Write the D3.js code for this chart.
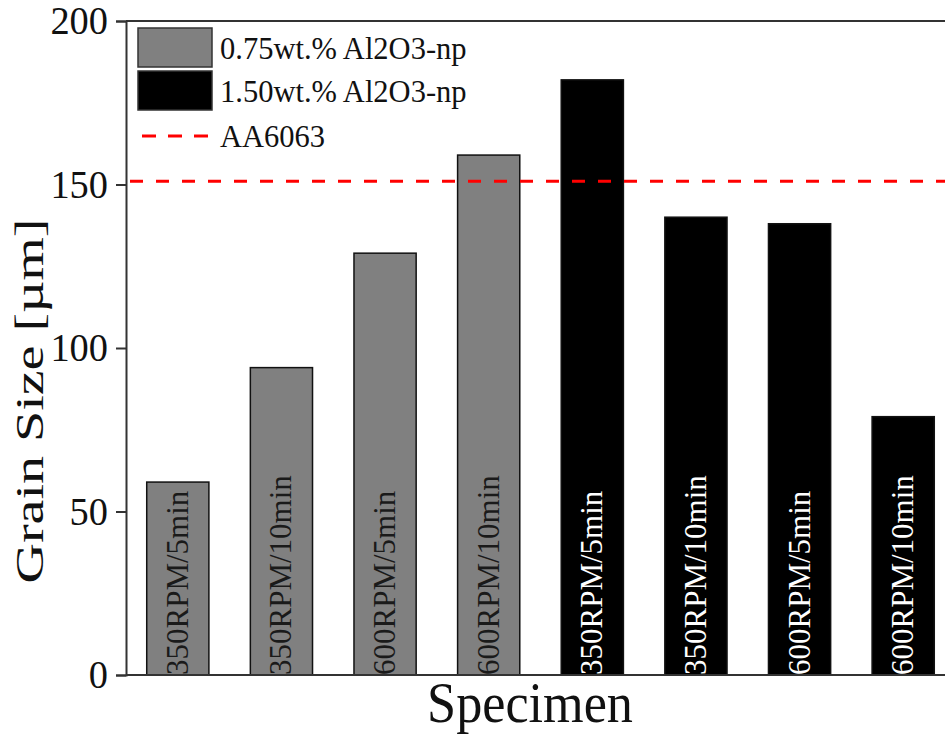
<!DOCTYPE html>
<html>
<head>
<meta charset="utf-8">
<script src="https://cdn.jsdelivr.net/npm/d3@7"></script>
<style>
  body { margin: 0; background: #fff; }
  text { font-family: "Liberation Serif", "Times New Roman", serif; }
</style>
</head>
<body>
<div id="chart"></div>
<script>
// specimens and grain size values
var specimens = ["350RPM/5min", "350RPM/10min", "600RPM/5min", "600RPM/10min",
                 "350RPM/5min ", "350RPM/10min ", "600RPM/5min ", "600RPM/10min "];
var grainSize = [59, 94, 129, 159, 182, 140, 138, 79];
var groups = ["0.75wt.% Al2O3-np", "0.75wt.% Al2O3-np", "0.75wt.% Al2O3-np", "0.75wt.% Al2O3-np",
              "1.50wt.% Al2O3-np", "1.50wt.% Al2O3-np", "1.50wt.% Al2O3-np", "1.50wt.% Al2O3-np"];
var legendNames = ["0.75wt.% Al2O3-np", "1.50wt.% Al2O3-np", "AA6063"];
var baseValue = 151;
var yTicks = [0, 50, 100, 150, 200];

var svgWidth = 945;
var svgHeight = 736;

var margin = { top: 21, right: -10, bottom: 61, left: 126 };
var width = svgWidth - margin.left - margin.right;
var height = svgHeight - margin.top - margin.bottom;

var svg = d3.select("#chart")
  .append("svg")
  .attr("width", svgWidth)
  .attr("height", svgHeight);

var chartGroup = svg.append("g")
  .attr("transform", `translate(${margin.left}, ${margin.top})`);

var data = specimens.map(function(s, i) {
  return { name: s, value: grainSize[i], group: groups[i] };
});

var xBandScale = d3.scaleBand()
  .domain(specimens)
  .range([0, width])
  .paddingInner(0.4)
  .paddingOuter(0.2);

var yLinearScale = d3.scaleLinear()
  .domain([0, 200])
  .range([height, 0]);

var color = d3.scaleOrdinal()
  .domain(legendNames.slice(0, 2))
  .range(["#808080", "#000000"]);

// top frame line
chartGroup.append("line")
  .attr("x1", 0).attr("x2", width)
  .attr("y1", 0).attr("y2", 0)
  .attr("stroke", "#333").attr("stroke-width", 2);

// bars
chartGroup.selectAll(".bar")
  .data(data)
  .enter()
  .append("rect")
  .attr("class", "bar")
  .attr("x", d => xBandScale(d.name))
  .attr("y", d => yLinearScale(d.value))
  .attr("width", xBandScale.bandwidth())
  .attr("height", d => height - yLinearScale(d.value))
  .attr("fill", d => color(d.group))
  .attr("stroke", "#111")
  .attr("stroke-width", 1.5);

// labels inside bars
chartGroup.selectAll(".barText")
  .data(data)
  .enter()
  .append("text")
  .attr("class", "barText")
  .attr("transform", d => `translate(${xBandScale(d.name) + xBandScale.bandwidth() / 2 + 10}, ${height}) rotate(-90)`)
  .style("font-size", "31px")
  .attr("fill", d => d.group === legendNames[0] ? "#1a1a1a" : "#fff")
  .text(d => d.name.trim());

// reference line
chartGroup.append("line")
  .attr("x1", 4).attr("x2", width)
  .attr("y1", yLinearScale(baseValue)).attr("y2", yLinearScale(baseValue))
  .attr("stroke", "#ff0000")
  .attr("stroke-width", 3)
  .attr("stroke-dasharray", "13,13");

// y axis
var leftAxis = d3.axisLeft(yLinearScale).tickValues(yTicks).tickSizeOuter(0).tickSize(10).tickPadding(8);
var yAxisG = chartGroup.append("g").call(leftAxis);
yAxisG.select(".domain").attr("stroke", "#333").attr("stroke-width", 2);
yAxisG.selectAll(".tick line").attr("stroke", "#333").attr("stroke-width", 2);
yAxisG.selectAll(".tick text")
  .style("font-size", "40px")
  .attr("fill", "#111")
  .attr("transform", "scale(0.96,1)")
  .attr("x", -18 / 0.96);

// x axis line
chartGroup.append("line")
  .attr("x1", 0).attr("x2", width)
  .attr("y1", height).attr("y2", height)
  .attr("stroke", "#333").attr("stroke-width", 2);

// axis titles
chartGroup.append("text")
  .attr("transform", `translate(${43 - margin.left}, ${401 - margin.top}) scale(0.72,1) rotate(-90)`)
  .style("font-size", "56px")
  .style("text-anchor", "middle")
  .attr("fill", "#111")
  .text("Grain Size [µm]");

chartGroup.append("text")
  .attr("transform", `translate(${530 - margin.left}, ${722 - margin.top}) scale(0.9,1)`)
  .style("font-size", "58px")
  .style("text-anchor", "middle")
  .attr("fill", "#111")
  .text("Specimen");

// legend
var legend = chartGroup.append("g").attr("transform", "translate(12, 7)");
legendNames.slice(0, 2).forEach(function(name, i) {
  legend.append("rect")
    .attr("x", 0).attr("y", i * 43)
    .attr("width", 74).attr("height", 39)
    .attr("fill", color(name))
    .attr("stroke", "#333").attr("stroke-width", 1.5);
  legend.append("text")
    .attr("x", 82).attr("y", i * 43 + 31)
    .style("font-size", "30.5px")
    .attr("fill", "#111")
    .text(name);
});
legend.append("line")
  .attr("x1", 4).attr("x2", 72)
  .attr("y1", 108).attr("y2", 108)
  .attr("stroke", "#ff0000").attr("stroke-width", 3)
  .attr("stroke-dasharray", "14,12");
legend.append("text")
  .attr("x", 82).attr("y", 119)
  .style("font-size", "30.5px")
  .attr("fill", "#111")
  .text(legendNames[2]);
</script>
</body>
</html>
